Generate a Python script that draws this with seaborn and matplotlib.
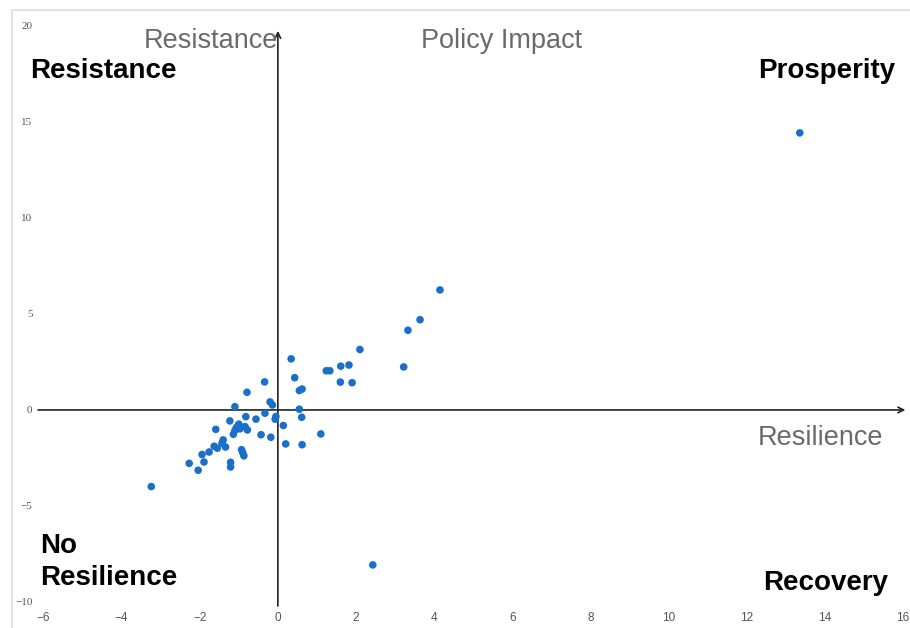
import numpy as np
import pandas as pd
import matplotlib
matplotlib.use("Agg")
import matplotlib.pyplot as plt
from matplotlib.lines import Line2D
import seaborn as sns

# Resilience (x) vs Policy Impact (y)
resilience = [4.15, 3.64, 3.33, 3.22, 2.10, 0.34, 1.24, 1.33, 1.61, 1.82,
              0.43, 1.60, 1.90, -0.34, -0.79, 0.55, 0.62, -0.20, -0.14, -1.10,
              0.55, -0.33, -0.05, -0.07, 0.61, -0.82, -0.56, -1.23, 0.14, -1.00,
              -1.06, -0.97, -1.10, -1.14, -0.84, -0.78, -1.59, -0.43, -0.18, 1.10,
              -1.40, -1.43, -1.34, -1.63, -1.55, -1.76, -1.94, -1.89, -2.27, -2.04,
              -0.93, -0.90, -0.87, -1.21, -1.21, 0.20, 0.62, -3.24, 13.36, 2.43]
policy_impact = [6.25, 4.70, 4.15, 2.24, 3.15, 2.66, 2.04, 2.04, 2.28, 2.34,
                 1.68, 1.45, 1.42, 1.46, 0.92, 1.01, 1.09, 0.42, 0.26, 0.17,
                 0.04, -0.17, -0.34, -0.48, -0.38, -0.35, -0.48, -0.57, -0.81, -0.74,
                 -0.91, -0.98, -1.07, -1.27, -0.87, -1.04, -1.01, -1.29, -1.42, -1.25,
                 -1.56, -1.73, -1.93, -1.89, -1.99, -2.19, -2.32, -2.71, -2.78, -3.14,
                 -2.07, -2.22, -2.39, -2.73, -2.97, -1.77, -1.81, -3.99, 14.43, -8.07]

x_ticks = [-6, -4, -2, 0, 2, 4, 6, 8, 10, 12, 14, 16]
y_ticks = [-10, -5, 0, 5, 10, 15, 20]

df = pd.DataFrame({"Resilience": resilience, "Policy Impact": policy_impact})

sns.set_style("white")
plt.rcParams["font.family"] = ["Liberation Sans", "DejaVu Sans"]

W, H = 910, 628
fig = plt.figure(figsize=(W / 100, H / 100), dpi=100)
# axes box in pixel terms: left 38, right 908, top 10, bottom 606
ax = fig.add_axes([38 / W, (H - 606) / H, 870 / W, 596 / H])

sns.scatterplot(data=df, x="Resilience", y="Policy Impact", ax=ax,
                color="#1a6fc9", s=30, edgecolor="none", zorder=3)

def lab(t):
    return str(t).replace("-", "\u2212")

ax.set_xlim(-6.14, 16.13)
ax.set_ylim(-10.21, 20.83)
ax.set_xticks(x_ticks)
ax.set_yticks(y_ticks)
ax.set_xticklabels([lab(t) for t in x_ticks], fontsize=8.5, color="#555555",
                   family=["Liberation Sans Narrow", "Liberation Sans", "DejaVu Sans"])
ax.set_yticklabels([lab(t) for t in y_ticks], fontsize=8, color="#555555",
                   family=["Liberation Serif", "DejaVu Serif"])
ax.tick_params(length=0, pad=4)
ax.set_xlabel("")
ax.set_ylabel("")
for sp in ax.spines.values():
    sp.set_visible(False)

# the two axes drawn as arrows through the origin
ax.annotate("", xy=(0.997, 0), xytext=(0.0, 0),
            xycoords=("axes fraction", "data"), textcoords=("axes fraction", "data"),
            arrowprops=dict(arrowstyle="->", lw=1.2, color="#222222",
                            shrinkA=0, shrinkB=0), zorder=2)
ax.annotate("", xy=(0, 0.965), xytext=(0, 0.0),
            xycoords=("data", "axes fraction"), textcoords=("data", "axes fraction"),
            arrowprops=dict(arrowstyle="->", lw=1.2, color="#222222",
                            shrinkA=0, shrinkB=0), zorder=2)

# light frame at top and left
fig.add_artist(Line2D([12 / W, 1], [1 - 10 / H, 1 - 10 / H], color="#e2e2e2", lw=1.5))
fig.add_artist(Line2D([12 / W, 12 / W], [0, 1 - 10 / H], color="#e2e2e2", lw=1.5))

def px(x, y):
    return x / W, 1 - y / H

gray = "#6a6a6a"
fig.text(*px(278, 41), "Resistance", ha="right", va="center", fontsize=19.5, color=gray)
fig.text(*px(502, 41), "Policy Impact", ha="center", va="center", fontsize=19.5, color=gray)
fig.text(*px(821, 438), "Resilience", ha="center", va="center", fontsize=19.5, color=gray)

bold = dict(fontsize=20, fontweight="bold", color="black")
fig.text(*px(30, 71), "Resistance", ha="left", va="center", **bold)
fig.text(*px(895, 71), "Prosperity", ha="right", va="center", **bold)
fig.text(*px(40, 562), "No\nResilience", ha="left", va="center", linespacing=1.3, **bold)
fig.text(*px(888, 583), "Recovery", ha="right", va="center", **bold)

fig.savefig("out.png", dpi=100, facecolor="white")
